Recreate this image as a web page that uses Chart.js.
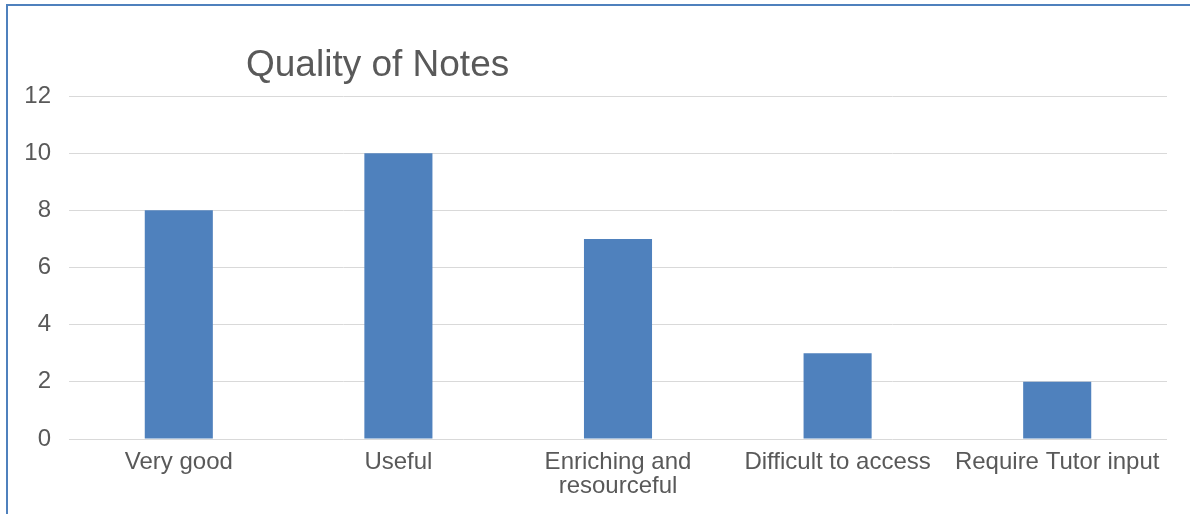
<!DOCTYPE html>
<html>
<head>
<meta charset="utf-8">
<script src="https://cdn.jsdelivr.net/npm/chart.js@4"></script>
<style>
  html, body { margin: 0; padding: 0; background: #fff; }
  #frame { position: absolute; left: 6px; top: 4px; width: 1184px; height: 510px;
           border-left: 2px solid #4f81bd; border-top: 2px solid #4f81bd; }
  #wrap { position: absolute; left: 0; top: 0; width: 1190px; height: 514px; }
</style>
</head>
<body>
<div id="frame"></div>
<div id="wrap"><canvas id="NotesChart"></canvas></div>
<script>
const categories = ['Very good', 'Useful', ['Enriching and', 'resourceful'], 'Difficult to access', 'Require Tutor input'];
const values = [8, 10, 7, 3, 2];
const yTicks = [0, 2, 4, 6, 8, 10, 12];
const chartTitle = 'Quality of Notes';

// title sits left of centre, like the original, so draw it by hand
const titlePlugin = {
    id: 'leftTitle',
    afterDraw(chart) {
        const ctx = chart.ctx;
        ctx.save();
        ctx.font = '37px "Liberation Sans", Arial, sans-serif';
        ctx.fillStyle = '#595959';
        ctx.textBaseline = 'alphabetic';
        ctx.fillText(chartTitle, 246, 76);
        ctx.restore();
    }
};

const ctxNotes = document.getElementById('NotesChart');
const dataNotes = {
    labels: categories,
    datasets: [{
        label: chartTitle,
        data: values,
        backgroundColor: '#4f81bd',
        borderWidth: 0,
        barPercentage: 0.62,
        categoryPercentage: 0.5
    }]
};
const configNotes = {
    type: 'bar',
    data: dataNotes,
    options: {
        responsive: true,
        maintainAspectRatio: false,
        animation: false,
        layout: { padding: { top: 96, right: 23, left: 0, bottom: 0 } },
        plugins: {
            legend: { display: false },
            tooltip: { enabled: false }
        },
        scales: {
            x: {
                grid: { display: false, drawTicks: false },
                border: { display: false },
                ticks: {
                    color: '#595959',
                    font: { family: '"Liberation Sans", Arial, sans-serif', size: 24, lineHeight: 0.97 },
                    padding: 12,
                    maxRotation: 0,
                    autoSkip: false
                },
                afterFit(scale) { scale.height = 75; }
            },
            y: {
                min: 0,
                max: 12,
                afterBuildTicks(scale) { scale.ticks = yTicks.map(v => ({ value: v })); },
                grid: { color: '#d9d9d9', lineWidth: 1, drawTicks: false },
                border: { display: false },
                ticks: {
                    color: '#595959',
                    font: { family: '"Liberation Sans", Arial, sans-serif', size: 24 },
                    padding: 18
                },
                afterFit(scale) { scale.width = 69; }
            }
        }
    },
    plugins: [titlePlugin]
};
new Chart(ctxNotes, configNotes);
</script>
</body>
</html>
